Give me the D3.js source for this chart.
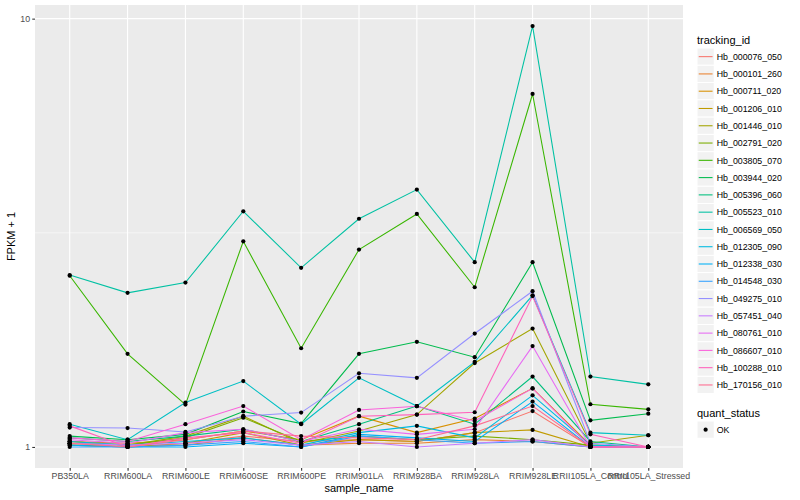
<!DOCTYPE html>
<html>
<head>
<meta charset="utf-8">
<script src="https://cdn.jsdelivr.net/npm/d3@7"></script>
<style>
  body { margin: 0; background: #fff; }
  svg { font-family: "Liberation Sans", Arial, Helvetica, sans-serif; }
</style>
</head>
<body>
<svg id="chart" width="800" height="500"></svg>
<script>
const svg = d3.select("#chart");
const width = 800,
  height = 500;

const samples = [
  "PB350LA", "RRIM600LA", "RRIM600LE", "RRIM600SE", "RRIM600PE", "RRIM901LA",
  "RRIM928BA", "RRIM928LA", "RRIM928LE", "RRII105LA_Control", "RRII105LA_Stressed"
];

const trackingIds = [
  "Hb_000076_050", "Hb_000101_260", "Hb_000711_020", "Hb_001206_010", "Hb_001446_010",
  "Hb_002791_020", "Hb_003805_070", "Hb_003944_020", "Hb_005396_060", "Hb_005523_010",
  "Hb_006569_050", "Hb_012305_090", "Hb_012338_030", "Hb_014548_030", "Hb_049275_010",
  "Hb_057451_040", "Hb_080761_010", "Hb_086607_010", "Hb_100288_010", "Hb_170156_010"
];

// FPKM + 1, one row per tracking_id, in sample order
const fpkmPlus1 = [
  [1.02, 1.00, 1.02, 1.06, 1.03, 1.04, 1.03, 1.08, 1.213, 1.00, 1.00],
  [1.01, 1.00, 1.01, 1.05, 1.01, 1.02, 1.02, 1.04, 1.03, 1.00, 1.00],
  [1.03, 1.02, 1.04, 1.09, 1.04, 1.18, 1.08, 1.165, 1.37, 1.01, 1.00],
  [1.01, 1.00, 1.02, 1.08, 1.01, 1.04, 1.03, 1.08, 1.096, 1.00, 1.00],
  [1.03, 1.01, 1.06, 1.18, 1.02, 1.09, 1.19, 1.57, 1.89, 1.02, 1.065],
  [1.02, 1.01, 1.05, 1.17, 1.03, 1.06, 1.04, 1.06, 1.04, 1.01, 1.00],
  [2.51, 1.65, 1.256, 3.02, 1.70, 2.89, 3.50, 2.36, 6.67, 1.258, 1.224],
  [1.06, 1.04, 1.07, 1.21, 1.134, 1.65, 1.76, 1.62, 2.70, 1.154, 1.196],
  [1.05, 1.03, 1.06, 1.10, 1.03, 1.13, 1.246, 1.13, 1.46, 1.03, 1.00],
  [2.52, 2.29, 2.42, 3.55, 2.62, 3.41, 3.99, 2.70, 9.61, 1.46, 1.40],
  [1.13, 1.04, 1.27, 1.425, 1.13, 1.45, 1.246, 1.58, 2.26, 1.08, 1.065],
  [1.03, 1.01, 1.03, 1.05, 1.01, 1.08, 1.12, 1.05, 1.32, 1.01, 1.00],
  [1.01, 1.00, 1.00, 1.02, 1.00, 1.07, 1.05, 1.03, 1.276, 1.00, 1.00],
  [1.00, 1.00, 1.01, 1.03, 1.00, 1.06, 1.04, 1.02, 1.03, 1.00, 1.00],
  [1.11, 1.107, 1.084, 1.18, 1.203, 1.486, 1.45, 1.84, 2.31, 1.02, 1.00],
  [1.02, 1.01, 1.02, 1.04, 1.01, 1.03, 1.00, 1.02, 1.04, 1.00, 1.00],
  [1.04, 1.02, 1.08, 1.10, 1.03, 1.10, 1.07, 1.10, 1.72, 1.00, 1.00],
  [1.05, 1.03, 1.13, 1.246, 1.04, 1.22, 1.245, 1.15, 1.37, 1.00, 1.00],
  [1.12, 1.00, 1.05, 1.08, 1.02, 1.18, 1.19, 1.205, 2.25, 1.07, 1.00],
  [1.02, 1.00, 1.04, 1.09, 1.06, 1.05, 1.04, 1.12, 1.246, 1.00, 1.00]
];

const quantStatus = ["OK"];
const yTicks = [1, 10];

// ggplot2 default hue palette for 20 levels
const colors = [
  "#F8766D", "#EA8331", "#D89000", "#C09B00", "#A3A500", "#7CAE00", "#39B600",
  "#00BB4E", "#00BF7D", "#00C1A3", "#00BFC4", "#00BAE0", "#00B0F6", "#35A2FF",
  "#9590FF", "#C77CFF", "#E76BF3", "#FA62DB", "#FF62BC", "#FF6C91"
];

const panel = { left: 35, right: 683, top: 5, bottom: 468 };

const x = d3
  .scalePoint()
  .domain(samples)
  .range([panel.left, panel.right])
  .padding(0.6);

const allVals = fpkmPlus1.flat();
const lo = Math.log10(d3.min(allVals)),
  hi = Math.log10(d3.max(allVals));
const pad = (hi - lo) * 0.05;
const y = d3
  .scaleLog()
  .domain([Math.pow(10, lo - pad), Math.pow(10, hi + pad)])
  .range([panel.bottom, panel.top]);

// panel background
svg
  .append("rect")
  .attr("x", panel.left)
  .attr("y", panel.top)
  .attr("width", panel.right - panel.left)
  .attr("height", panel.bottom - panel.top)
  .attr("fill", "#EBEBEB");

// minor gridline halfway between decades
const minorY = [Math.sqrt(yTicks[0] * yTicks[1])];
svg
  .selectAll(".minor")
  .data(minorY)
  .enter()
  .append("line")
  .attr("x1", panel.left)
  .attr("x2", panel.right)
  .attr("y1", (d) => y(d))
  .attr("y2", (d) => y(d))
  .attr("stroke", "#fff")
  .attr("stroke-width", 0.55);

svg
  .selectAll(".hgrid")
  .data(yTicks)
  .enter()
  .append("line")
  .attr("x1", panel.left)
  .attr("x2", panel.right)
  .attr("y1", (d) => y(d))
  .attr("y2", (d) => y(d))
  .attr("stroke", "#fff")
  .attr("stroke-width", 1.07);

svg
  .selectAll(".vgrid")
  .data(samples)
  .enter()
  .append("line")
  .attr("x1", (d) => x(d))
  .attr("x2", (d) => x(d))
  .attr("y1", panel.top)
  .attr("y2", panel.bottom)
  .attr("stroke", "#fff")
  .attr("stroke-width", 1.07);

// lines
const line = d3
  .line()
  .x((d, i) => x(samples[i]))
  .y((d) => y(d));

svg
  .selectAll(".series")
  .data(fpkmPlus1)
  .enter()
  .append("path")
  .attr("d", line)
  .attr("fill", "none")
  .attr("stroke", (d, i) => colors[i])
  .attr("stroke-width", 1.07);

// points
fpkmPlus1.forEach((row) => {
  svg
    .selectAll(null)
    .data(row)
    .enter()
    .append("circle")
    .attr("cx", (d, i) => x(samples[i]))
    .attr("cy", (d) => y(d))
    .attr("r", 2.1)
    .attr("fill", "#000");
});

// axes
const yAxis = svg
  .append("g")
  .attr("transform", `translate(${panel.left},0)`)
  .call(d3.axisLeft(y).tickValues(yTicks).tickFormat(d3.format("d")).tickSize(2.74).tickPadding(2.2));

const xAxis = svg
  .append("g")
  .attr("transform", `translate(0,${panel.bottom})`)
  .call(d3.axisBottom(x).tickSize(2.74).tickPadding(2.2));

[xAxis, yAxis].forEach((g) => {
  g.select(".domain").remove();
  g.selectAll(".tick line").attr("stroke", "#333333").attr("stroke-width", 1.07);
  g.selectAll(".tick text")
    .attr("fill", "#4D4D4D")
    .attr("font-size", "8.8px")
    .attr("font-family", "Liberation Sans, Arial, sans-serif");
});

svg
  .append("text")
  .attr("x", (panel.left + panel.right) / 2)
  .attr("y", 492)
  .attr("text-anchor", "middle")
  .attr("font-size", "11px")
  .text("sample_name");

svg
  .append("text")
  .attr("transform", `translate(15,${(panel.top + panel.bottom) / 2}) rotate(-90)`)
  .attr("text-anchor", "middle")
  .attr("font-size", "11px")
  .text("FPKM + 1");

// legend: tracking_id
const legendX = 697,
  keySize = 17.28;

svg
  .append("text")
  .attr("x", legendX)
  .attr("y", 44)
  .attr("font-size", "11px")
  .text("tracking_id");

const keys = svg
  .selectAll(".key")
  .data(trackingIds)
  .enter()
  .append("g")
  .attr("transform", (d, i) => `translate(${legendX},${48 + i * keySize})`);

keys
  .append("rect")
  .attr("width", keySize)
  .attr("height", keySize)
  .attr("fill", "#F2F2F2")
  .attr("stroke", "#fff")
  .attr("stroke-width", 1);

keys
  .append("line")
  .attr("x1", keySize * 0.1)
  .attr("x2", keySize * 0.9)
  .attr("y1", keySize / 2)
  .attr("y2", keySize / 2)
  .attr("stroke", (d, i) => colors[i])
  .attr("stroke-width", 1.07);

keys
  .append("text")
  .attr("x", keySize + 2.5)
  .attr("y", keySize / 2 + 3.2)
  .attr("font-size", "8.8px")
  .text((d) => d);

// legend: quant_status
svg
  .append("text")
  .attr("x", legendX)
  .attr("y", 417)
  .attr("font-size", "11px")
  .text("quant_status");

const qKeys = svg
  .selectAll(".qkey")
  .data(quantStatus)
  .enter()
  .append("g")
  .attr("transform", (d, i) => `translate(${legendX},${421 + i * keySize})`);

qKeys
  .append("rect")
  .attr("width", keySize)
  .attr("height", keySize)
  .attr("fill", "#F2F2F2")
  .attr("stroke", "#fff");

qKeys
  .append("circle")
  .attr("cx", keySize / 2)
  .attr("cy", keySize / 2)
  .attr("r", 2.1)
  .attr("fill", "#000");

qKeys
  .append("text")
  .attr("x", keySize + 2.5)
  .attr("y", keySize / 2 + 3.2)
  .attr("font-size", "8.8px")
  .text((d) => d);
</script>
</body>
</html>
